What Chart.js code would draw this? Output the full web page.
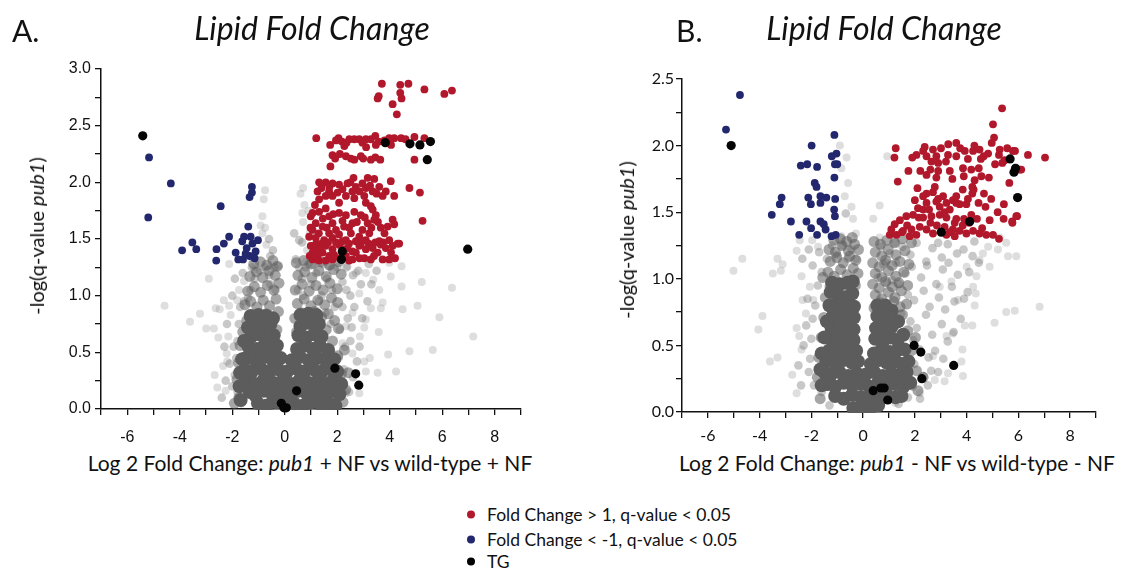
<!DOCTYPE html>
<html>
<head>
<meta charset="utf-8">
<script src="https://cdn.jsdelivr.net/npm/chart.js@4.4.0/dist/chart.umd.min.js"></script>
<style>
  html, body { margin: 0; padding: 0; background: #fff; }
  #wrap { position: relative; width: 1121px; height: 571px; overflow: hidden; font-family: Lato, "Open Sans", sans-serif; color: #111; }
  canvas { position: absolute; }
  .lbl { position: absolute; white-space: nowrap; }
  .panel { font-size: 30px; }
  .title { font-size: 32px; font-style: italic; transform: translate(-50%, -50%); }
  .xt { font-size: 21px; transform: translate(-50%, -50%); }
  .yt { font-size: 20px; transform: translate(-50%, -50%) rotate(-90deg); }
  .leg { position: absolute; left: 467px; font-size: 17.5px; display: flex; align-items: center; transform: translateY(-50%); }
  .dot { width: 8px; height: 8px; border-radius: 50%; margin-right: 12px; }
</style>
</head>
<body>
<div id="wrap">
  <canvas id="chartA" width="545" height="400" style="left:0px;top:45px"></canvas>
  <canvas id="chartB" width="545" height="400" style="left:576px;top:45px"></canvas>

  <div class="lbl panel" style="left:12px;top:12px">A.</div>
  <div class="lbl panel" style="left:676px;top:12px">B.</div>
  <div class="lbl title" style="left:312px;top:27px">Lipid Fold Change</div>
  <div class="lbl title" style="left:884px;top:27px">Lipid Fold Change</div>
  <div class="lbl xt" style="left:310px;top:462px">Log 2 Fold Change: <i>pub1</i> + NF vs wild-type + NF</div>
  <div class="lbl xt" style="left:897px;top:462px">Log 2 Fold Change: <i>pub1</i> - NF vs wild-type - NF</div>
  <div class="lbl yt" style="left:36px;top:236px">-log(q-value <i>pub1</i>)</div>
  <div class="lbl yt" style="left:626px;top:240px">-log(q-value <i>pub1</i>)</div>

  <div class="leg" style="top:514px"><div class="dot" style="background:#b2182b"></div>Fold Change &gt; 1, q-value &lt; 0.05</div>
  <div class="leg" style="top:539px"><div class="dot" style="background:#23286e"></div>Fold Change &lt; -1, q-value &lt; 0.05</div>
  <div class="leg" style="top:561px"><div class="dot" style="background:#000"></div>TG</div>
</div>

<script>
// axis ticks
const xTickLabels = ['-6', '-4', '-2', '0', '2', '4', '6', '8'];
const yTickLabelsA = ['0.0', '0.5', '1.0', '1.5', '2.0', '2.5', '3.0'];
const yTickLabelsB = ['0.0', '0.5', '1.0', '1.5', '2.0', '2.5'];

// ---- panel A: pub1 + NF vs wild-type + NF ----
const upA = [
  [3.70,2.87],[4.40,2.86],[4.71,2.87],[5.32,2.82],[6.08,2.78],[6.37,2.81],[3.58,2.76],[3.54,2.74],[4.40,2.79],[4.45,2.74],[4.11,2.69],[4.27,2.60],
  [1.20,2.39],[2.05,2.39],[2.18,2.36],[1.73,2.33],[2.27,2.32],[2.46,2.38],[2.65,2.38],[2.84,2.38],[2.96,2.35],[3.09,2.38],[3.28,2.38],[3.45,2.41],[3.47,2.33],[3.58,2.36],[3.98,2.39],[4.17,2.39],[4.43,2.39],[4.94,2.40],[5.32,2.39],
  [1.95,2.37],[2.35,2.35],[3.10,2.31],[3.80,2.37],[4.60,2.38],[4.05,2.33],[2.10,2.25],[3.45,2.22],
  [1.82,2.24],[1.92,2.21],[2.33,2.23],[2.52,2.21],[2.65,2.20],[2.90,2.23],[2.99,2.21],[3.28,2.20],[3.64,2.20],[4.94,2.20],[1.74,2.14],
  [1.31,2.00],[1.56,2.00],[1.82,1.99],[2.07,1.98],[2.39,1.99],[2.62,2.04],[2.71,1.96],[2.96,1.99],[3.16,2.04],[3.41,2.03],[3.09,1.95],[3.60,1.96],[3.85,1.92],[4.04,2.01],[4.17,1.88],[4.75,1.95],[5.15,1.91],
  [1.25,1.92],[1.69,1.92],[2.01,1.91],[2.33,1.88],[2.65,1.86],[3.03,1.88],[3.35,1.92],[3.73,1.88],[1.82,1.88],[2.58,1.92],[1.31,1.85],[1.56,1.88],[2.07,1.82],[3.09,1.82],[3.35,1.76],
  [1.15,1.80],[1.40,1.95],[1.70,1.96],[2.20,1.94],[2.50,2.00],[2.85,1.92],[3.25,1.97],[3.50,1.90],
  [1.06,1.73],[1.31,1.74],[1.56,1.77],[1.69,1.70],[2.07,1.73],[2.33,1.71],[2.65,1.74],[2.90,1.71],[3.28,1.79],[3.47,1.71],[4.11,1.67],[4.17,1.63],[5.25,1.66],
  [1.18,1.64],[1.44,1.61],[1.82,1.64],[1.95,1.58],[2.26,1.61],[2.58,1.64],[2.96,1.58],[3.16,1.64],[3.41,1.67],[3.66,1.60],[3.92,1.61],[1.06,1.58],[1.69,1.55],[2.07,1.54],[2.52,1.55],[2.84,1.52],[3.22,1.55],
  [0.98,1.60],[1.30,1.55],[1.45,1.68],[1.60,1.60],[1.85,1.72],[2.20,1.66],[2.45,1.60],[2.75,1.65],[3.05,1.69],[3.30,1.60],[3.55,1.65],[3.80,1.55],
  [1.18,1.51],[1.50,1.49],[1.82,1.51],[2.33,1.49],[2.71,1.48],[3.09,1.49],[3.60,1.48],[3.98,1.49],[4.30,1.46],[0.93,1.52],[0.99,1.70],
  [1.06,1.44],[1.31,1.42],[1.56,1.44],[1.82,1.41],[2.07,1.45],[2.39,1.42],[2.58,1.39],[2.84,1.44],[3.09,1.41],[3.35,1.42],[3.66,1.45],[3.85,1.42],[4.11,1.44],[4.36,1.46],
  [1.40,1.46],[1.65,1.47],[1.95,1.47],[2.20,1.48],[2.45,1.46],[2.90,1.46],[3.20,1.46],[3.45,1.47],[3.75,1.47],[4.05,1.38],[4.20,1.33],[2.10,1.33],[2.45,1.31],[2.85,1.33],[3.40,1.35],[1.20,1.46],
  [1.06,1.38],[1.25,1.35],[1.44,1.38],[1.69,1.35],[1.88,1.36],[2.33,1.35],[2.71,1.38],[3.03,1.33],[3.54,1.38],[3.73,1.32],[3.98,1.32],[1.06,1.32],[1.31,1.31],[1.56,1.31],[1.82,1.32],[2.58,1.32],[3.28,1.32],[2.20,1.41],[1.18,1.39],[0.99,1.44],[0.95,1.35]
];
const downA = [
  [-5.17,2.22],[-4.34,1.99],[-5.20,1.69],[-2.44,1.79],[-1.25,1.96],[-1.25,1.91],[-1.34,1.87],[-1.39,1.61],[-2.12,1.52],[-2.32,1.46],[-1.55,1.52],[-1.30,1.52],[-1.02,1.49],[-1.62,1.48],
  [-1.23,1.46],[-3.52,1.47],[-3.37,1.41],[-3.91,1.40],[-2.60,1.41],[-2.61,1.31],[-1.87,1.38],[-1.77,1.32],[-1.59,1.32],[-1.49,1.37],[-1.34,1.35],[-1.15,1.33],[-1.11,1.39],[-1.45,1.42]
];
const tgA = [
  [-5.41,2.41],[3.83,2.35],[4.77,2.34],[5.15,2.33],[5.55,2.36],[5.43,2.20],[6.97,1.41],[2.19,1.39],[2.16,1.32],
  [1.91,0.36],[2.70,0.31],[2.82,0.21],[0.45,0.16],[-0.13,0.05],[0.06,0.01],[-0.03,0.01]
];
const grayCoreA = [
  [-1.02,0.05],[-0.68,0.03],[-0.31,0.06],[0.02,0.04],[0.36,0.05],[0.71,0.03],[1.02,0.06],[1.37,0.04],[1.68,0.05],[1.93,0.03],
  [-1.33,0.15],[-1.12,0.12],[-0.8,0.16],[-0.47,0.13],[-0.15,0.15],[0.19,0.12],[0.52,0.16],[0.86,0.13],[1.2,0.15],[1.52,0.12],[1.83,0.16],[2.08,0.13],
  [-1.47,0.25],[-1.13,0.22],[-0.79,0.26],[-0.42,0.23],[-0.08,0.25],[0.25,0.22],[0.58,0.26],[0.92,0.23],[1.25,0.25],[1.58,0.22],[1.86,0.26],
  [-1.52,0.35],[-1.25,0.33],[-0.92,0.36],[-0.58,0.33],[-0.25,0.35],[0.09,0.33],[0.42,0.36],[0.75,0.33],[1.09,0.35],[1.42,0.33],[1.72,0.36],
  [-1.47,0.45],[-1.12,0.43],[-0.79,0.46],[-0.46,0.43],[-0.16,0.45],[0.27,0.43],[0.58,0.46],[0.92,0.43],[1.25,0.45],[1.56,0.43],
  [-1.38,0.55],[-1.08,0.53],[-0.78,0.56],[-0.48,0.53],[-0.3,0.56],[0.47,0.53],[0.77,0.56],[1.07,0.53],[1.33,0.56],
  [-1.28,0.64],[-0.98,0.66],[-0.68,0.63],[-0.42,0.65],[0.52,0.65],[0.82,0.63],[1.12,0.66],
  [-1.15,0.74],[-0.85,0.72],[-0.55,0.75],[0.6,0.73],[0.9,0.76],
  [-1.68,0.08],[-1.72,0.2],[-1.7,0.32],[-1.62,0.44],[2.15,0.22],[2.0,0.33],[1.88,0.44],[1.65,0.52],[-1.55,0.6],[1.4,0.64],
  [-1.4,0.72],[1.3,0.75],[-1.3,0.82],[-1.0,0.83],[-0.7,0.82],[-0.45,0.8],[0.6,0.83],[0.9,0.84],[1.2,0.83]
];
const grayDenseA = [
  [-1.45,0.78],[-1.22,0.83],[-0.97,0.8],[-0.71,0.84],[-0.44,0.79],[-0.24,0.86],
  [-1.52,0.92],[-1.3,0.95],[-1.06,0.9],[-0.82,0.96],[-0.58,0.91],[-0.33,0.97],
  [-1.41,1.04],[-1.16,1.08],[-0.92,1.03],[-0.66,1.09],[-0.42,1.05],[-0.22,1.11],
  [-1.33,1.17],[-1.08,1.21],[-0.84,1.16],[-0.6,1.22],[-0.36,1.18],
  [-1.18,1.28],[-0.93,1.3],[-0.68,1.27],[-0.45,1.31],[-0.28,1.26],
  [0.38,0.8],[0.63,0.85],[0.9,0.79],[1.14,0.86],[1.4,0.81],[1.66,0.84],[1.9,0.78],
  [0.48,0.93],[0.74,0.97],[1.0,0.91],[1.26,0.96],[1.52,0.92],[1.78,0.98],[2.02,0.94],
  [0.4,1.05],[0.66,1.1],[0.93,1.04],[1.19,1.09],[1.46,1.05],[1.72,1.11],[2.0,1.06],
  [0.5,1.18],[0.76,1.21],[1.03,1.16],[1.3,1.22],[1.58,1.17],[1.86,1.23],[2.15,1.19],
  [0.44,1.29],[0.72,1.31],[1.0,1.28],[1.36,1.3],[1.7,1.27],[2.05,1.3],
  [-1.75,0.1],[-1.82,0.26],[-1.76,0.41],[-1.7,0.56],[-1.6,0.68],[-1.92,0.05],[2.22,0.06],[2.32,0.17],[2.16,0.31],[2.02,0.47],
  [1.82,0.6],[1.58,0.7],[2.42,0.32],[2.27,0.52],[2.05,0.71],[1.25,0.7],[-0.3,0.7],[0.45,0.68]
];
const grayMidA = [
  [-1.3,1.05],[-1.15,1.15],[-0.95,1.22],[-0.75,1.25],[-0.6,1.18],[-0.4,1.25],[-1.4,0.98],[-1.25,1.25],[-0.55,1.1],[-0.35,1.05],
  [-1.8,0.15],[-1.9,0.3],[-1.85,0.45],[-1.8,0.6],[-1.75,0.75],[-1.7,0.9],[-1.55,0.95],[-2.0,0.2],[-1.65,0.05],[-2.1,0.4],[-1.95,0.55],
  [0.5,1.05],[0.65,1.15],[0.8,1.25],[1.0,1.1],[1.2,1.2],[1.4,1.0],[1.6,1.15],[1.3,0.95],[0.7,1.0],[1.8,1.05],[2.0,1.25],[2.2,1.12],
  [1.55,0.85],[1.75,0.75],[1.9,0.9],[2.1,0.7],[2.3,0.55],[2.05,0.45],[2.25,0.35],[2.1,0.2],[1.9,0.08],[1.6,0.02],[2.4,0.8],[2.5,1.0],
  [2.6,1.18],[2.35,1.25],[2.8,1.22],[2.65,0.9],[0.55,1.25],[0.9,1.28],[1.1,1.27],[1.45,1.28],[1.7,1.26],
  [-0.25,1.26],[0.66,1.47],[0.42,1.32],[0.55,1.49],[0.36,1.55],[-0.55,1.35],[-0.6,1.5],[-0.45,1.4],
  [2.45,0.15],[2.6,0.28],[2.75,0.42],[2.5,0.6],[2.85,0.55],[2.95,0.8],[3.15,0.95],[3.3,1.1],[2.9,1.1],[3.5,1.22],[3.2,1.28],
  [2.55,0.72],[2.2,0.9],[2.35,1.05],[-2.25,0.25],[-2.3,0.55],[-2.2,0.75],[-2.0,1.0],[-1.9,1.15],[-2.4,0.1],[-1.6,1.2]
];
const grayOutA = [
  [-4.58,0.91],[-2.89,1.15],[-3.61,0.77],[-3.23,0.84],[-2.99,0.71],[-2.70,0.71],[-2.53,0.63],[-2.67,0.30],[-2.57,0.19],[-2.25,0.16],
  [-2.32,0.96],[-2.12,0.91],[-2.63,0.89],[-2.48,0.88],[-2.06,0.83],[-2.15,0.64],[-1.74,1.05],[-2.12,1.28],[-2.21,0.49],[-2.35,0.38],
  [-2.19,0.42],[-0.75,1.93],[-0.92,1.62],[-0.85,1.55],[-1.17,1.23],[-1.55,1.13],[-1.81,0.96],[-0.7,1.45],[-0.75,1.6],[-0.85,1.7],[-0.8,1.85],
  [0.7,1.65],[0.75,1.8],[0.7,1.95],[0.85,1.4],[0.95,1.55],[0.9,1.75],[0.6,1.9],[0.8,1.3],[0.67,1.73],
  [7.18,0.64],[6.37,1.07],[5.89,0.81],[5.64,0.52],[5.22,1.12],[5.06,0.91],[4.45,1.26],[4.45,1.08],[4.75,0.51],[3.94,0.48],
  [4.24,0.33],[3.58,0.68],[3.03,0.72],[3.73,0.94],[4.04,1.17],[4.49,0.88],[3.66,0.89],[3.28,0.89],[3.09,0.79],[2.86,0.64],
  [2.58,0.49],[3.03,0.42],[3.24,0.45],[3.54,0.32],[3.09,0.33],[2.84,0.14],[2.33,0.14],[3.98,1.29],[3.60,1.05],[2.84,1.02],
  [3.37,1.14],[3.09,1.2],[2.71,1.2],[2.39,1.26],[2.58,0.85],[2.33,0.73],[2.20,0.58],[1.82,0.46]
];

// ---- panel B: pub1 - NF vs wild-type - NF ----
const upB = [
  [5.37,2.28],[5.02,2.16],[5.06,2.06],[4.97,2.02],[3.60,2.02],[3.29,2.01],[3.01,1.98],[2.70,1.97],[2.38,1.99],[2.32,1.96],[2.06,1.93],[1.90,1.91],
  [1.26,1.98],[1.21,1.91],[1.75,1.81],[1.34,1.73],[2.45,1.92],[2.64,1.88],[2.83,1.92],[2.90,1.87],[3.28,1.93],[3.60,1.92],[3.93,1.96],[4.25,1.96],
  [4.50,1.97],[4.66,1.92],[4.83,1.94],[5.28,1.97],[5.57,1.98],[5.87,1.96],[6.37,1.93],[7.03,1.91],[5.38,1.87],[6.05,1.82],[5.47,1.89],[5.79,1.96],[6.11,1.82],
  [2.21,1.81],[2.45,1.78],[2.90,1.81],[2.83,1.76],[3.35,1.81],[3.86,1.83],[3.89,1.77],[4.18,1.82],[4.47,1.83],[4.31,1.74],[4.57,1.77],[4.86,1.76],
  [2.77,1.69],[2.45,1.64],[2.32,1.62],[2.00,1.59],[2.12,1.53],[2.45,1.57],[2.83,1.58],[2.96,1.54],[3.22,1.57],[3.60,1.57],[3.73,1.56],[3.99,1.56],
  [4.22,1.69],[4.22,1.64],[4.27,1.67],[4.67,1.64],[4.46,1.57],[4.73,1.54],[5.44,1.56],[5.95,1.47],[5.76,1.43],[5.43,1.45],[4.89,1.44],[4.18,1.48],
  [3.90,1.45],[3.54,1.42],[3.22,1.46],[2.96,1.48],[2.64,1.47],[2.32,1.46],[1.93,1.48],[1.67,1.47],[1.42,1.44],[1.22,1.41],[1.09,1.37],[1.03,1.33],
  [1.29,1.33],[1.54,1.36],[1.87,1.37],[2.19,1.39],[2.45,1.37],[2.70,1.34],[3.15,1.39],[3.47,1.37],[3.73,1.36],[3.99,1.34],[4.25,1.36],[4.50,1.34],
  [4.76,1.33],[5.02,1.33],[5.25,1.30],[1.80,1.32],[2.06,1.33],[3.22,1.33],[3.54,1.32],[2.32,1.52],[3.35,1.52],[3.09,1.62],[2.70,1.65],[3.47,1.59],
  [5.77,1.42],[5.92,1.47],
  [1.50,1.35],[1.70,1.40],[2.60,1.42],[2.85,1.40],[3.35,1.35],[3.60,1.45],[3.85,1.40],[4.10,1.42],[4.40,1.45],[4.60,1.38],[2.15,1.46],[2.55,1.52],
  [2.90,1.60],[3.15,1.50],[3.60,1.62],[3.85,1.67],[4.05,1.60],[4.95,1.60],[5.20,1.50],[3.45,1.75],[3.20,1.88],[4.05,1.90],[4.55,1.90],[4.30,2.00],
  [3.75,1.98],[5.10,1.86],[5.65,1.72],[5.25,1.93],[2.60,1.82],[2.10,1.68]
];
const downB = [
  [-4.76,2.38],[-5.30,2.12],[-1.99,2.00],[-1.11,2.08],[-1.03,1.94],[-1.21,1.92],[-1.09,1.86],[-1.00,1.86],[-2.41,1.85],[-2.16,1.86],[-1.78,1.84],
  [-1.11,1.76],[-1.87,1.72],[-1.80,1.69],[-3.15,1.61],[-3.22,1.56],[-3.53,1.48],[-2.79,1.43],[-2.12,1.61],[-2.02,1.56],[-1.65,1.62],[-1.65,1.57],
  [-1.42,1.61],[-1.08,1.60],[-1.12,1.52],[-1.09,1.47],[-2.19,1.43],[-2.01,1.38],[-1.65,1.43],[-1.52,1.41],[-1.45,1.37],[-2.47,1.33],[-1.78,1.33],
  [-1.22,1.32],[-1.06,1.33]
];
const tgB = [
  [-5.10,2.00],[5.68,1.90],[5.89,1.83],[5.83,1.80],[5.97,1.61],[4.12,1.43],[3.02,1.35],
  [1.97,0.50],[2.23,0.45],[2.27,0.25],[3.50,0.35],[0.39,0.16],[0.68,0.18],[0.81,0.18],[0.95,0.09]
];
const grayCoreB = [
  [-0.38,0.03],[-0.05,0.04],[0.29,0.03],[0.58,0.05],
  [-1.08,0.12],[-0.75,0.1],[-0.42,0.13],[-0.08,0.11],[0.25,0.12],[0.58,0.1],[0.92,0.13],[1.25,0.11],[1.48,0.12],
  [-1.38,0.21],[-1.08,0.19],[-0.75,0.22],[-0.42,0.2],[-0.08,0.21],[0.25,0.19],[0.58,0.22],[0.92,0.2],[1.25,0.21],[1.55,0.19],[1.82,0.22],
  [-1.47,0.29],[-1.25,0.28],[-0.92,0.3],[-0.58,0.27],[-0.25,0.29],[0.09,0.28],[0.42,0.3],[0.75,0.27],[1.09,0.29],[1.42,0.28],[1.68,0.3],
  [-1.42,0.38],[-1.08,0.36],[-0.75,0.39],[-0.42,0.37],[-0.2,0.38],[0.3,0.36],[0.62,0.39],[0.92,0.37],[1.25,0.38],[1.5,0.36],
  [-1.32,0.46],[-1.02,0.44],[-0.7,0.47],[-0.4,0.45],[-0.27,0.46],[0.42,0.44],[0.72,0.47],[1.02,0.45],[1.3,0.46],
  [-1.27,0.55],[-0.97,0.53],[-0.65,0.56],[-0.37,0.54],[0.47,0.55],[0.77,0.53],[1.07,0.56],[1.33,0.54],
  [-1.22,0.63],[-0.92,0.61],[-0.6,0.64],[-0.37,0.62],[0.5,0.63],[0.8,0.61],[1.1,0.64],
  [-1.17,0.72],[-0.87,0.7],[-0.57,0.73],[-0.36,0.71],[0.55,0.72],[0.85,0.7],
  [-1.12,0.8],[-0.82,0.78],[-0.55,0.81],[-0.36,0.79],[-0.98,0.88],[-0.68,0.86],[-0.42,0.89],
  [-1.6,0.2],[-1.65,0.32],[-1.6,0.44],[-1.5,0.56],[1.75,0.38],[1.6,0.47],[1.55,0.58],[1.35,0.68],[1.1,0.76],[-1.4,0.68],
  [-1.3,0.8],[-1.25,0.9],[0.55,0.8],[0.85,0.8],[-1.2,0.97],[-0.9,0.96],[-0.6,0.97],[-0.4,0.98]
];
const grayDenseB = [
  [-1.28,0.94],[-1.03,0.97],[-0.78,0.93],[-0.52,0.98],[-0.3,0.95],
  [-1.36,1.05],[-1.12,1.02],[-0.87,1.07],[-0.62,1.03],[-0.38,1.08],[-0.2,1.04],
  [-1.27,1.13],[-1.02,1.16],[-0.77,1.12],[-0.52,1.17],[-0.28,1.14],
  [-1.32,1.22],[-1.07,1.2],[-0.82,1.25],[-0.57,1.21],[-0.33,1.26],[-0.18,1.22],
  [-1.13,1.29],[-0.88,1.3],[-0.63,1.28],[-0.42,1.31],
  [0.42,0.78],[0.67,0.82],[0.93,0.77],[1.18,0.83],[1.43,0.79],[1.68,0.81],
  [0.47,0.88],[0.72,0.85],[0.98,0.9],[1.23,0.86],[1.48,0.91],
  [0.37,0.96],[0.62,0.93],[0.87,0.98],[1.13,0.94],[1.38,0.97],[1.72,0.95],
  [0.47,1.04],[0.72,1.01],[0.98,1.06],[1.27,1.02],[1.57,1.05],
  [0.37,1.12],[0.62,1.09],[0.87,1.14],[1.12,1.1],[1.42,1.13],[1.77,1.11],
  [0.47,1.2],[0.72,1.17],[0.97,1.22],[1.27,1.18],[1.62,1.21],
  [0.42,1.28],[0.67,1.26],[0.92,1.29],[1.22,1.27],[1.52,1.3],[1.87,1.27],
  [-1.66,0.1],[-1.77,0.26],[-1.71,0.41],[-1.62,0.56],[-1.52,0.71],[-1.46,0.86],[-1.56,1.01],[2.12,0.16],[2.06,0.31],[1.87,0.46],
  [1.72,0.61],[1.52,0.73],[2.32,0.26],[2.02,0.56],[1.2,0.68],[-0.3,0.8]
];
const grayMidB = [
  [1.52,1.24],[1.83,1.18],[2.07,1.27],[2.44,1.13],[2.68,1.23],[3.04,1.16],[3.27,1.26],[3.63,1.19],[3.88,1.22],[4.23,1.17],[4.47,1.12],
  [1.27,1.12],[1.64,1.04],[1.88,1.09],[2.24,1.01],[2.47,1.1],[2.83,0.96],[3.08,1.07],[3.43,0.94],[3.66,1.03],[4.04,0.9],
  [1.38,0.96],[1.73,0.88],[1.97,0.84],[2.34,0.91],[2.57,0.79],[2.93,0.86],[3.17,0.77],[3.53,0.83],[3.77,0.7],
  [1.47,0.74],[1.83,0.68],[2.07,0.63],[2.43,0.73],[2.67,0.58],[3.04,0.66],[3.27,0.53],
  [1.93,0.54],[2.18,0.47],[2.53,0.41],[1.98,0.36],[2.34,0.27],[1.92,0.19],[1.73,0.11],[1.37,0.06],[2.63,0.31],[2.78,0.46],
  [1.02,1.19],[1.23,1.27],[0.78,1.11],[0.68,1.24],[0.57,1.01],[1.12,0.99],[0.92,0.97],
  [-1.4,1.15],[-1.2,1.25],[-1.0,1.18],[-0.8,1.25],[-0.6,1.15],[-0.45,1.22],[-1.6,1.05],[-1.75,0.95],[-1.85,0.8],[-1.95,0.7],
  [-2.0,0.55],[-2.05,0.4],[-2.1,0.3],[-1.9,0.2],[-1.6,0.15],[-1.3,0.05],[-2.3,0.5],[-2.2,0.65],[-2.15,0.85],[-1.95,1.1],[-1.7,1.2],
  [-0.67,1.49],[-0.26,1.15],[0.88,1.12],
  [2.9,1.27],[3.3,1.12],[3.5,0.6],[3.1,0.4],[2.9,0.3],[2.5,0.2],[2.2,0.1],[4.3,1.28],[4.1,1.05],[3.9,0.85],
  [-2.4,0.2],[-2.5,0.35],[-2.35,1.15],[-2.1,1.22]
];
const grayOutB = [
  [-0.9,2.0],[-0.64,1.91],[-0.84,1.83],[-0.58,1.72],[-0.71,1.62],[-0.45,1.54],[-0.39,1.45],[-0.28,1.34],[-0.84,1.32],
  [0.64,1.55],[0.39,1.45],[0.93,1.92],[0.64,1.31],
  [-5.01,1.06],[-4.67,1.15],[-3.89,0.72],[-4.05,0.62],[-3.6,0.38],[-3.31,0.41],[-2.74,0.28],[-2.57,0.14],[-3.49,1.04],[-3.18,1.06],
  [-3.31,1.15],[-3.11,1.11],[-2.57,1.21],[-2.38,1.02],[-2.57,0.63],[-2.47,0.57],[-2.38,0.47],[-2.21,0.74],[-2.06,0.94],[-1.93,0.84],
  [-2.34,0.84],[-1.97,1.29],[-2.45,1.29],[-1.74,1.24],
  [6.82,0.79],[5.86,0.76],[5.53,0.75],[5.08,0.67],[4.35,0.89],[4.31,0.8],[4.22,0.65],[3.84,0.47],[3.80,0.38],[3.86,0.27],
  [3.28,0.29],[3.15,0.23],[2.77,0.24],[2.70,0.42],[3.22,0.57],[3.47,0.59],[3.93,0.65],[4.38,1.02],[4.0,1.09],[4.63,1.19],
  [4.89,1.09],[4.83,1.24],[5.21,1.22],[5.53,1.27],[5.6,1.17],[5.92,1.17],[5.28,1.31],[4.5,1.14],[4.25,0.94],[3.67,0.84],
  [3.41,0.98],[2.96,0.94],[0.9,0.23],[1.24,0.07],[2.19,0.14]
];

function pts(arr) {
  return arr.map(p => ({ x: p[0], y: p[1] }));
}

const grayClip = { left: 8, right: 8, top: 8, bottom: 1 };

function makeChart(id, d) {
  const tickFont = { family: d.tickFamily, size: 16 };
  return new Chart(document.getElementById(id), {
    type: 'scatter',
    data: {
      datasets: [
        { data: pts(d.tg), backgroundColor: '#050505', pointRadius: 4.6, clip: false },
        { data: pts(d.down), backgroundColor: '#23286e', pointRadius: 3.9, clip: false },
        { data: pts(d.up), backgroundColor: '#b2182b', pointRadius: 3.9, clip: false },
        { data: pts(d.core), backgroundColor: '#5c5c5c', pointRadius: 7, clip: grayClip },
        { data: pts(d.dense), backgroundColor: 'rgba(92,92,92,0.55)', pointRadius: 5.5, clip: grayClip },
        { data: pts(d.mid), backgroundColor: 'rgba(110,110,110,0.38)', pointRadius: 4.3, clip: grayClip },
        { data: pts(d.out), backgroundColor: 'rgba(160,160,160,0.35)', pointRadius: 4, clip: grayClip }
      ]
    },
    options: {
      responsive: false,
      animation: false,
      events: [],
      elements: { point: { borderWidth: 0, hoverRadius: 0 } },
      layout: { padding: d.padding },
      plugins: { legend: { display: false }, tooltip: { enabled: false } },
      scales: {
        x: {
          type: 'linear',
          min: -7,
          max: 9,
          afterFit: s => { s.height = d.xHeight; },
          border: { color: '#111', width: 1.5 },
          grid: { drawOnChartArea: false, color: '#111', lineWidth: 1.3, tickLength: 6 },
          ticks: {
            stepSize: 1,
            autoSkip: false,
            maxRotation: 0,
            padding: d.xPad,
            color: '#111',
            font: tickFont,
            callback: v => xTickLabels.includes(String(v)) ? String(v) : ''
          }
        },
        y: {
          min: 0,
          max: d.yMax,
          afterFit: s => { s.width = d.yWidth; },
          border: { color: '#111', width: 1.5 },
          grid: { drawOnChartArea: false, color: '#111', lineWidth: 1.3, tickLength: 6 },
          ticks: {
            stepSize: 0.25,
            autoSkip: false,
            padding: d.yPad,
            color: '#111',
            font: tickFont,
            callback: v => d.yLabels.includes(v.toFixed(1)) && Math.abs(v * 2 - Math.round(v * 2)) < 1e-9 ? v.toFixed(1) : ''
          }
        }
      }
    }
  });
}

makeChart('chartA', {
  up: upA, down: downA, tg: tgA, core: grayCoreA, dense: grayDenseA, mid: grayMidA, out: grayOutA,
  yMax: 3, yLabels: yTickLabelsA, tickFamily: '"Liberation Sans", Arial, sans-serif',
  padding: { top: 24, right: 24, left: 0, bottom: 0 }, xHeight: 36, yWidth: 101, xPad: 13, yPad: 4
});
makeChart('chartB', {
  up: upB, down: downB, tg: tgB, core: grayCoreB, dense: grayDenseB, mid: grayMidB, out: grayOutB,
  yMax: 2.5, yLabels: yTickLabelsB, tickFamily: 'Lato, sans-serif',
  padding: { top: 34, right: 25, left: 0, bottom: 0 }, xHeight: 33, yWidth: 106, xPad: 8, yPad: 2
});
</script>
</body>
</html>
